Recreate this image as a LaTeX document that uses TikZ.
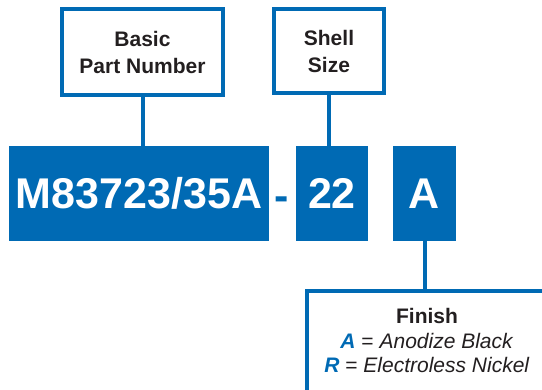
\documentclass[tikz,border=0pt]{standalone}
\usepackage{fontspec}
\setmainfont{Liberation Sans}
\usepackage{tikz}
\usetikzlibrary{positioning}
\usetikzlibrary{calc}
\definecolor{partblue}{RGB}{0,106,180}
\definecolor{labelgray}{RGB}{35,31,32}

\begin{document}
\begin{tikzpicture}[x=1pt,y=-1pt,
  labelbox/.style={draw=partblue, line width=4pt, fill=white, align=center, text=labelgray,
    font=\bfseries\fontsize{21}{27}\selectfont, inner sep=0pt},
  codebox/.style={fill=partblue, text=white, font=\bfseries\fontsize{43}{43}\selectfont,
    minimum height=95pt, text height=30.5pt, text depth=0pt, inner sep=0pt},
  wire/.style={draw=partblue, line width=4pt}]
\useasboundingbox (0,0) rectangle (542,390);
\clip (0,0) rectangle (542,390);
%\draw[step=10pt,gray,very thin] (0,0) grid (542,390);

% label boxes on top
\node[labelbox, minimum width=161pt, minimum height=86pt] (basic) at (142.5,52) {Basic\\Part Number};
\node[labelbox, minimum width=110pt, minimum height=84pt] (shell) at (329,51) {Shell\\Size};

% the part number itself
\node[codebox, minimum width=260pt] (part) at (139,193.5) {M83723/35A};
\node[anchor=base, text=partblue, font=\bfseries\fontsize{43}{43}\selectfont, inner sep=0pt] (dash) at (282,211) {-};
\node[codebox, minimum width=72pt] (size) at (332,193.5) {22};
\node[codebox, minimum width=63pt] (code) at (424.5,193.5) {A};

% finish box, runs off the page
\coordinate (ftop) at (307,291);
\draw[wire] (ftop) rectangle (600,450);
\node[align=center, text=labelgray, font=\fontsize{21}{24.5}\selectfont, inner sep=0pt] (finish) at (427,340.5)
  {\textbf{Finish}\\
   \textit{\textbf{\color{partblue}A}} = \textit{Anodize Black}\\
   \textit{\textbf{\color{partblue}R}} = \textit{Electroless Nickel}};

% connectors
\draw[wire] (basic.south) -- (basic.south |- part.north);
\draw[wire] (shell.south) -- (shell.south |- size.north);
\draw[wire] (code.south) -- (code.south |- ftop);
\end{tikzpicture}
\end{document}
